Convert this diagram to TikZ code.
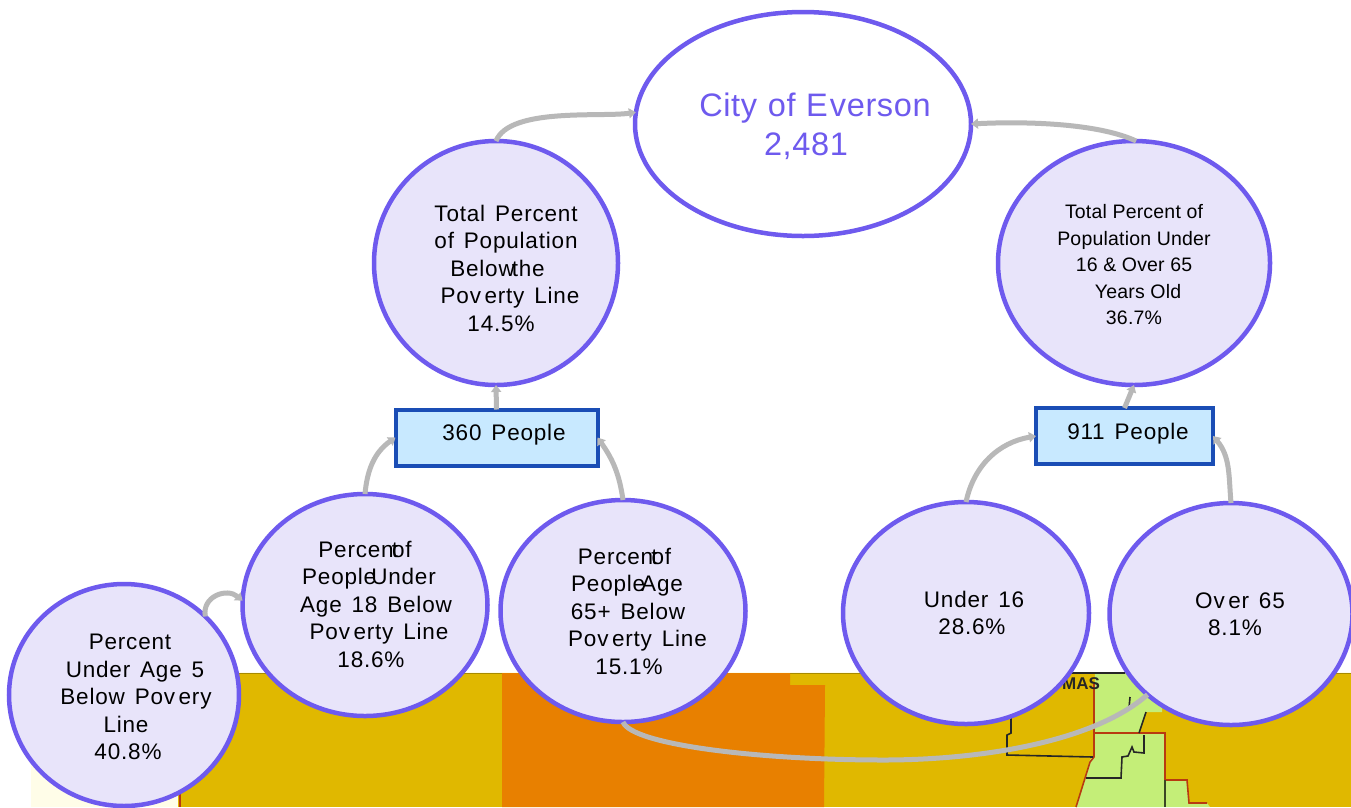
\documentclass[tikz,border=0pt]{standalone}
\usepackage{fontspec}
\setmainfont{Liberation Sans}
\newfontfamily\widefont[LetterSpace=3.6,WordSpace=1.4]{Liberation Sans}
\newfontfamily\midfont[LetterSpace=2,WordSpace=1.1]{Liberation Sans}
\newfontfamily\tightfont[LetterSpace=1]{Liberation Sans}
\usetikzlibrary{shapes.geometric,arrows.meta}
\definecolor{rim}{HTML}{6E5AEE}
\definecolor{lilac}{HTML}{E8E4FA}
\definecolor{boxfill}{HTML}{C8E9FF}
\definecolor{boxrim}{HTML}{1A4DB5}
\definecolor{link}{HTML}{B8B8B8}
\definecolor{gold}{HTML}{E0B800}
\definecolor{deep}{HTML}{E88000}
\definecolor{lime}{HTML}{C4EE78}
\definecolor{pale}{HTML}{FFFDE8}
\definecolor{bred}{HTML}{B83A10}
\newcommand{\sz}[2]{\fontsize{#1}{#2}\selectfont}
\newcommand{\Pv}{Pov\kern3.5pt erty}
\newcommand{\Pof}{Percen\kern-2pt t\kern-6pt of}
\tikzset{
  x=1pt,y=-1pt,
  disc/.style={ellipse,draw=rim,fill=lilac,line width=4.5pt,outer sep=0pt,inner sep=0pt},
  tally/.style={rectangle,draw=boxrim,fill=boxfill,line width=4pt,outer sep=0pt,inner sep=0pt},
  words/.style={align=center,inner sep=0pt,text=black,font=\widefont\sz{22.5}{27.5}},
  wordsS/.style={align=center,inner sep=0pt,text=black,font=\tightfont\sz{19.5}{26.5}},
  conn/.style={draw=link,line width=5pt,-{Triangle[width=10pt,length=7pt]}},
  plainconn/.style={draw=link,line width=5pt},
  mapline/.style={draw=black!85,line width=1.6pt},
  redline/.style={draw=bred,line width=1.6pt},
}
\begin{document}
\begin{tikzpicture}
\useasboundingbox (0,0) rectangle (1351,807);
% map
\fill[white] (0,0) rectangle (1351,807);
\fill[pale] (31,672) rectangle (1351,807);
\fill[gold] (178,673) rectangle (1351,807);
\draw[gold!75!black,line width=1pt] (178,673) -- (1351,673);
\fill[deep] (502,673) -- (790,673) -- (790,685) -- (825,685) -- (824,807) -- (502,807) -- cycle;
\fill[lime] (1095,673) -- (1125,673) -- (1162,700) -- (1162,712) -- (1146,712) -- (1139,733) -- (1165,733) -- (1165,780) -- (1187,780) -- (1189,803) -- (1207,803) -- (1210,807) -- (1076,807) -- (1090,760) -- (1094,755) -- cycle;
\draw[redline] (180,790) -- (180,807);
\draw[redline] (1094,684) -- (1094,757) -- (1090,762) -- (1076,807);
\draw[redline] (1094,733) -- (1165,733) -- (1165,780) -- (1187,780) -- (1189,803) -- (1207,803);
\draw[mapline] (1065,673) -- (1125,673);
\draw[mapline] (1011,718) -- (1011,733) -- (1007,735) -- (1007,755) -- (1093,757);
\draw[mapline] (1130,697) -- (1129,708);
\draw[mapline] (1146,712) -- (1139,733);
\draw[mapline] (1144,735) -- (1144,753) -- (1134,752) -- (1132,747) -- (1128,756) -- (1122,757) -- (1121,778) -- (1086,778);
\draw[draw=black!70!lime,line width=1.2pt] (1165,780) -- (1165,807);
\node[font=\bfseries\sz{17}{19},text=black!85,inner sep=0pt] (mas) at (1081,684) {MAS};
% shapes
\node[disc,fill=white,minimum width=336pt,minimum height=224pt] (city) at (803,124) {};
\node[disc,minimum width=244pt,minimum height=244pt] (tot) at (496,263) {};
\node[disc,minimum width=272pt,minimum height=244pt] (tots) at (1134,263) {};
\node[tally,minimum width=202pt,minimum height=56pt] (b360) at (496.5,437.5) {};
\node[tally,minimum width=177pt,minimum height=56pt] (b911) at (1124.5,436) {};
\node[disc,minimum width=245pt,minimum height=222pt] (p18) at (365,605) {};
\node[disc,minimum width=245pt,minimum height=222pt] (p65) at (623,611) {};
\node[disc,minimum width=246pt,minimum height=222pt] (u16) at (966,613) {};
\node[disc,minimum width=243pt,minimum height=222pt] (o65) at (1231,614) {};
\node[disc,minimum width=230pt,minimum height=222pt] (u5) at (124,695) {};
% text
\node[inner sep=0pt,align=center,text=rim,font=\midfont\sz{32.5}{39}] (tcity) at (815,126) {City of E\kern2pt verson\\\hspace*{-18pt}2,481};
\node[words] (ttot) at (506,268) {Total Percent\\of Population\\\hspace*{-17pt}Below\kern-3pt the\\\hspace*{8pt}\Pv{} Line\\\hspace*{-10pt}14.5\%};
\node[wordsS] (ttots) at (1134,265) {Total Percent of\\Population Under\\16 \& Over 65\\\hspace*{8pt}Years Old\\36.7\%};
\node[words] (t360) at (504,435) {360 People};
\node[words] (t911) at (1128,434) {911 People};
\node[words] (tp18) at (376,604) {\hspace*{-22pt}\Pof\\\hspace*{-14pt}People\kern-5pt Under\\Age 18 Below\\\hspace*{6pt}\Pv{} Line\\\hspace*{-10pt}18.6\%};
\node[words] (tp65) at (637.5,611) {\hspace*{-26pt}\Pof\\\hspace*{-21pt}People\kern-4pt Age\\\hspace*{-19pt}65+ Below\\\Pv{} Line\\\hspace*{-17pt}15.1\%};
\node[words] (tu16) at (974,613) {Under 16\\\hspace*{-4pt}28.6\%};
\node[words] (to65) at (1240,614) {Ov\kern3.5pt er 65\\\hspace*{-10pt}8.1\%};
\node[words] (tu5) at (136,697) {\hspace*{-12pt}Percent\\\hspace*{-2pt}Under Age 5\\Below Pov\kern3.5pt ery\\\hspace*{-20pt}Line\\\hspace*{-16pt}40.8\%};
% connectors
\draw[conn] (tot.90) to[out=68,in=188,looseness=.65] (city.176);
\draw[conn] (tots.89) to[out=155,in=3,looseness=.7] (city.0);
\draw[conn] (b360.north) -- (tot.south);
\draw[conn] (b911.north) -- (tots.south);
\draw[conn] (p18.90) to[out=85,in=215] (b360.west);
\draw[conn] (p65.90) to[out=98,in=-55] (b360.east);
\draw[conn] (u16.north) to[out=78,in=190] (b911.west);
\draw[conn] (o65.90) to[out=95,in=-50] (b911.east);
\draw[conn] (u5.44) to[out=100,in=140,looseness=1.3] (p18.178);
\coordinate (dip) at (884,760);
\draw[plainconn] (p65.south) .. controls (632,745) and (760,760) .. (dip) .. controls (970,760) and (1090,745) .. (o65.224);
\end{tikzpicture}
\end{document}
